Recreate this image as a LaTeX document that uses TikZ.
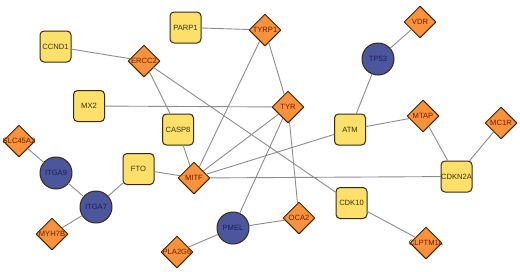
\documentclass[tikz,border=0pt]{standalone}
\usepackage{fontspec}
\setmainfont{Liberation Sans}
\usetikzlibrary{shapes.geometric}
\definecolor{genegold}{RGB}{252,224,106}
\definecolor{geneorange}{RGB}{249,146,58}
\definecolor{geneblue}{RGB}{76,86,156}
\definecolor{geneedge}{RGB}{55,40,20}
\definecolor{genelink}{RGB}{140,140,140}
\definecolor{goldtext}{RGB}{60,50,20}
\definecolor{orangetext}{RGB}{105,30,5}
\definecolor{bluetext}{RGB}{25,30,85}
\newcommand{\gname}[1]{\makebox[0pt]{#1}}
\tikzset{
 genebox/.style={draw=geneedge,fill=genegold,rounded corners=4pt,
  minimum size=31pt,inner sep=0pt,line width=1pt,text=goldtext,
  font=\fontsize{7.6}{8}\selectfont},
 genediamond/.style={diamond,aspect=1,draw=geneedge,fill=geneorange,
  minimum width=32pt,minimum height=32pt,inner sep=0pt,line width=1pt,
  text=orangetext,font=\fontsize{7.6}{8}\selectfont},
 genecircle/.style={circle,draw=geneedge,fill=geneblue,minimum size=32pt,
  inner sep=0pt,line width=1pt,text=bluetext,font=\fontsize{7.6}{8}\selectfont},
 link/.style={draw=genelink,line width=.9pt}
}

\begin{document}
\begin{tikzpicture}[x=1pt,y=-1pt,line cap=round,line join=round]
 \useasboundingbox (0,0) rectangle (520,271);
 % yellow boxes
 \node[genebox] (CCND1) at (55.5,46.5) {CCND1};
 \node[genebox] (PARP1) at (185.5,27.5) {PARP1};
 \node[genebox] (MX2) at (89,106) {MX2};
 \node[genebox] (CASP8) at (178,129.5) {CASP8};
 \node[genebox] (ATM) at (350,129.5) {ATM};
 \node[genebox] (FTO) at (138.5,169) {FTO};
 \node[genebox] (CDKN2A) at (456.5,176.5) {CDKN2A};
 \node[genebox] (CDK10) at (351.5,203) {CDK10};
 % orange diamonds
 \node[genediamond] (ERCC2) at (144,61) {\gname{ERCC2}};
 \node[genediamond] (TYRP1) at (265,30) {\gname{TYRP1}};
 \node[genediamond] (VDR) at (420,22) {\gname{VDR}};
 \node[genediamond] (TYR) at (288,107) {\gname{TYR}};
 \node[genediamond] (MTAP) at (423,116) {\gname{MTAP}};
 \node[genediamond] (MC1R) at (501,123) {\gname{MC1R}};
 \node[genediamond] (SLC45A2) at (19,141) {\gname{SLC45A2}};
 \node[genediamond] (MITF) at (194,178) {\gname{MITF}};
 \node[genediamond] (MYH7B) at (52,234) {\gname{MYH7B}};
 \node[genediamond] (OCA2) at (299,218) {\gname{OCA2}};
 \node[genediamond] (PLA2G6) at (177,252) {\gname{PLA2G6}};
 \node[genediamond] (CLPTM1L) at (426,243) {\gname{CLPTM1L}};
 % blue circles
 \node[genecircle] (TP53) at (378,59) {TP53};
 \node[genecircle] (ITGA9) at (56,173) {ITGA9};
 \node[genecircle] (ITGA7) at (96,207) {ITGA7};
 \node[genecircle] (PMEL) at (233,228) {PMEL};
 % interactions
 \draw[link] (CCND1) -- (ERCC2) (ERCC2) -- (CASP8) (ERCC2) -- (CDK10)
  (PARP1) -- (TYRP1) (TYRP1) -- (TYR) (MX2) -- (TYR);
 \draw[link] (MITF) -- (CASP8) (MITF) -- (TYRP1) (MITF) -- (TYR)
  (MITF) -- (ATM) (MITF) -- (CDKN2A) (MITF) -- (FTO);
 \draw[link] (TYR) -- (PMEL) (TYR) -- (OCA2) (PMEL) -- (OCA2)
  (PMEL) -- (PLA2G6) (CDK10) -- (CLPTM1L);
 \draw[link] (ATM) -- (TP53) (TP53) -- (VDR) (ATM) -- (MTAP)
  (MTAP) -- (CDKN2A) (MC1R) -- (CDKN2A);
 \draw[link] (SLC45A2) -- (ITGA9) (ITGA9) -- (ITGA7) (ITGA7) -- (FTO)
  (ITGA7) -- (MYH7B);
\end{tikzpicture}
\end{document}
